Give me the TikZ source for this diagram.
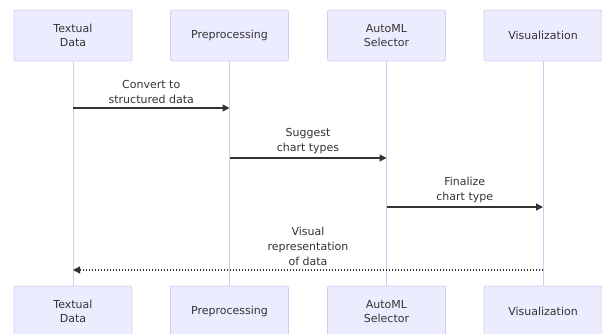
\documentclass[tikz,border=0pt]{standalone}
\usepackage{fontspec}
\setmainfont{DejaVu Sans}
\usetikzlibrary{arrows.meta}
\definecolor{actfill}{HTML}{ECECFF}
\definecolor{actline}{HTML}{D6CCF2}
\definecolor{msgtext}{HTML}{333333}
\tikzset{
  actor/.style={draw=actline, fill=actfill, line width=0.8pt, rounded corners=2pt,
    minimum width=118pt, minimum height=51pt, align=center, text=msgtext,
    font=\fontsize{11}{13.5}\selectfont, inner sep=0pt},
  lifeline/.style={draw=actline, line width=1pt},
  msg/.style={draw=msgtext, line width=1.3pt, -{Triangle[length=7pt,width=7pt]}},
  reply/.style={msg, dash pattern=on 1.4pt off 1.6pt},
  msglabel/.style={align=center, text=msgtext, font=\fontsize{11}{15}\selectfont,
    anchor=south, inner sep=0pt}
}
\begin{document}
\begin{tikzpicture}[x=1pt,y=-1pt]
\useasboundingbox (0,0) rectangle (602,333);
% participants, top row
\node[actor] (t1) at (73,35.5) {Textual\\Data};
\node[actor] (t2) at (229.5,35.5) {Preprocessing};
\node[actor] (t3) at (386.5,35.5) {AutoML\\Selector};
\node[actor] (t4) at (543,35.5) {Visualization};
% participants, bottom row
\node[actor] (b1) at (73,311.5) {Textual\\Data};
\node[actor] (b2) at (229.5,311.5) {Preprocessing};
\node[actor] (b3) at (386.5,311.5) {AutoML\\Selector};
\node[actor] (b4) at (543,311.5) {Visualization};
% lifelines
\foreach \i in {1,...,4} \draw[lifeline] (t\i.south) -- (b\i.north);
% message anchor points on the lifelines
\coordinate (m1s) at (73,108);  \coordinate (m1e) at (229.5,108);
\coordinate (m2s) at (229.5,158); \coordinate (m2e) at (386.5,158);
\coordinate (m3s) at (386.5,207); \coordinate (m3e) at (543,207);
\coordinate (m4s) at (543,270);  \coordinate (m4e) at (73,270);
% messages
\draw[msg] (m1s) -- (m1e) node[msglabel, pos=0.5, yshift=4pt] (l1) {Convert to\\structured data};
\draw[msg] (m2s) -- (m2e) node[msglabel, pos=0.5, yshift=4pt] (l2) {Suggest\\chart types};
\draw[msg] (m3s) -- (m3e) node[msglabel, pos=0.5, yshift=4pt] (l3) {Finalize\\chart type};
\draw[reply] (m4s) -- (m4e) node[msglabel, pos=0.5, yshift=4pt] (l4) {Visual\\representation\\of data};
\end{tikzpicture}
\end{document}
